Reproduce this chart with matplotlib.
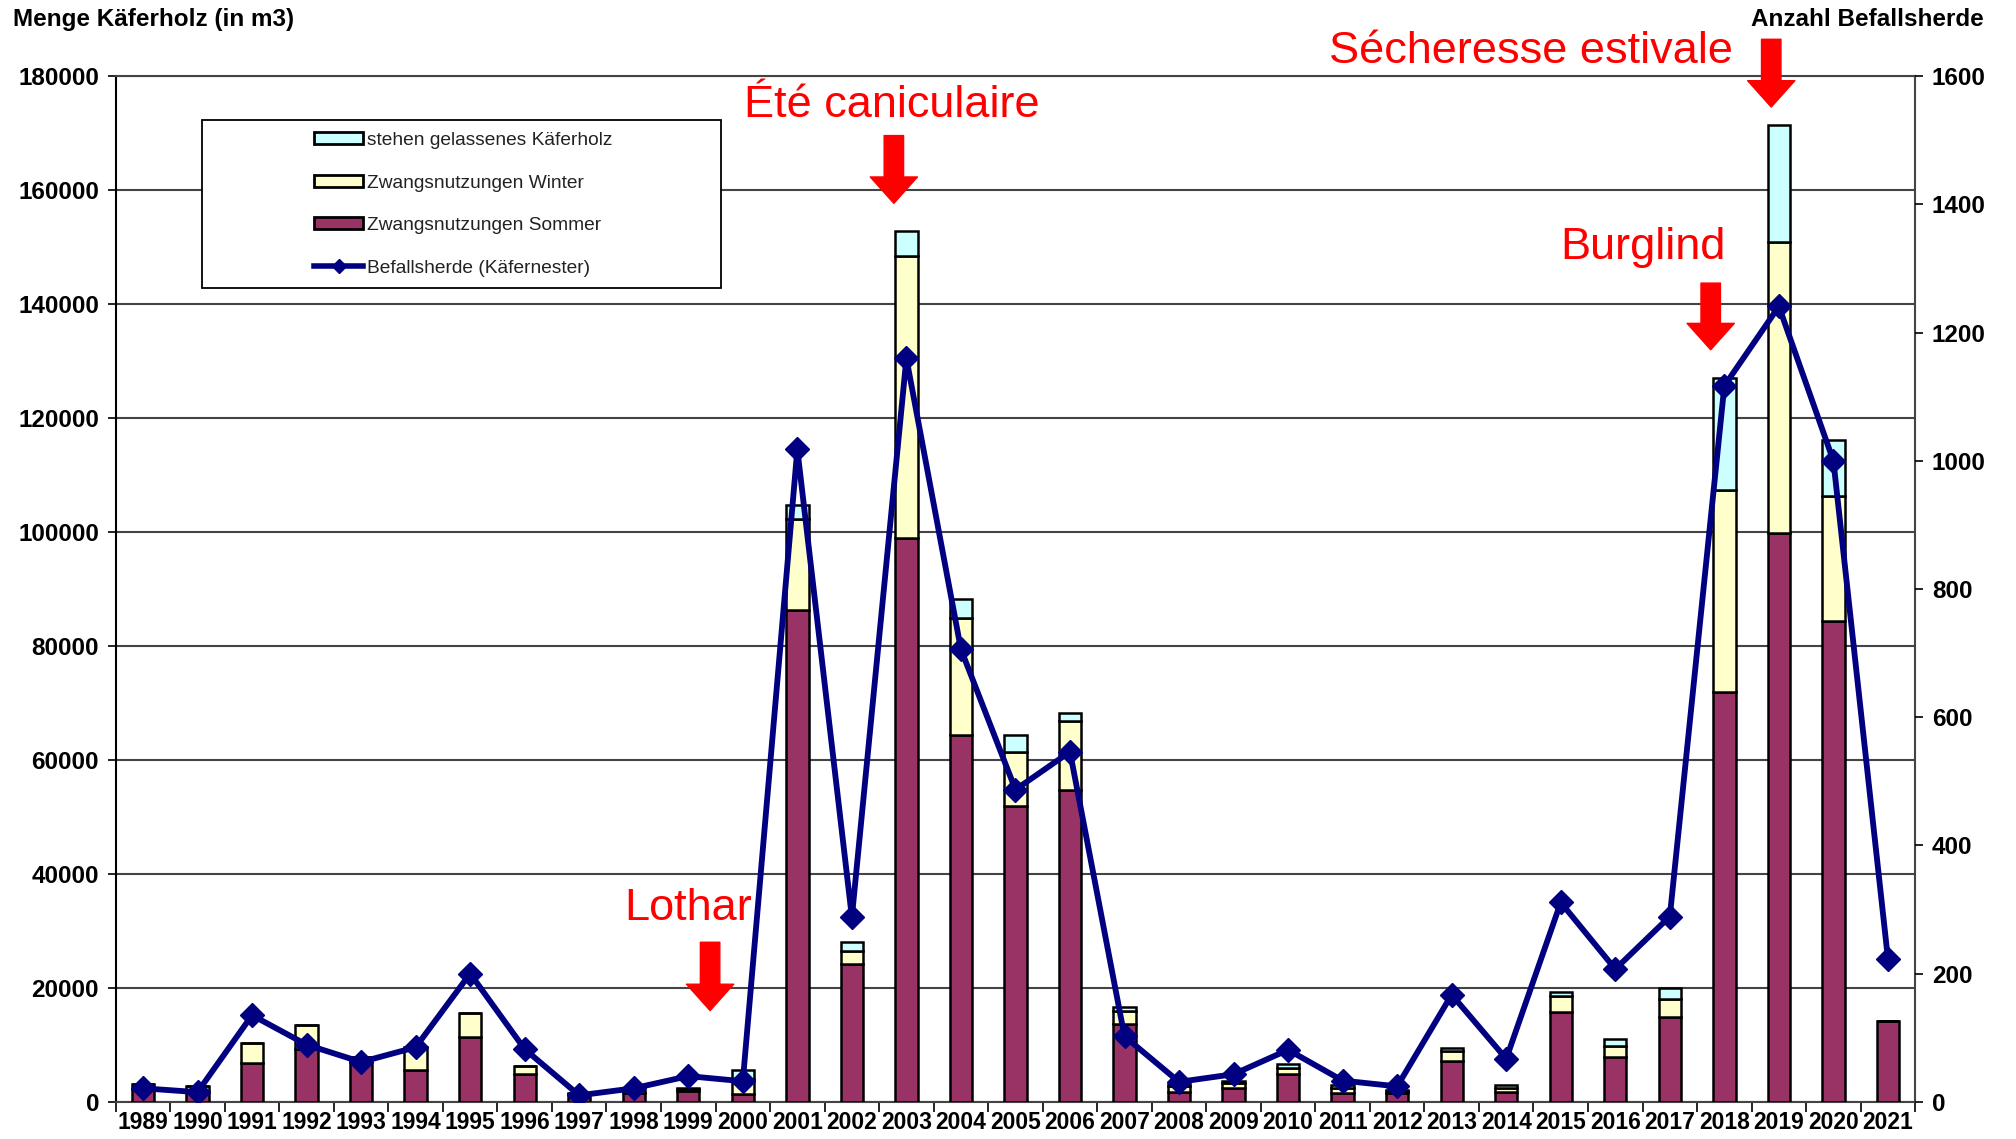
import numpy as np
import matplotlib
matplotlib.use("Agg")
from matplotlib import pyplot as plt
from matplotlib.patches import Patch, Rectangle
from matplotlib.lines import Line2D

years = list(range(1989, 2022))
# Zwangsnutzungen Sommer, Winter, stehen gelassenes Käferholz (m3)
sommer = [2200, 1800, 6800, 9200, 7500, 5600, 11350, 4900, 1400, 1500, 1900, 1350,
          86400, 24200, 98900, 64300, 52000, 54700, 13600, 1700, 2400, 4850, 1500, 1600,
          7200, 1700, 15700, 7840, 14800, 72000, 99900, 84400, 14200]
winter = [1000, 900, 3600, 4300, 300, 4000, 4200, 1300, 200, 600, 300, 2700,
          15900, 2350, 49500, 20700, 9450, 12100, 2250, 1000, 900, 1050, 900, 300,
          1650, 700, 2800, 2000, 3300, 35400, 51000, 21950, 0]
stehen = [0, 0, 0, 0, 0, 0, 0, 0, 0, 0, 300, 1500,
          2400, 1450, 4400, 3200, 2850, 1400, 700, 400, 400, 700, 500, 200,
          650, 500, 800, 1200, 1900, 19600, 20500, 9750, 0]
# Befallsherde (Käfernester)
herde = [21, 15, 135, 89, 62, 85, 200, 82, 10, 21, 40, 32,
         1018, 288, 1160, 706, 487, 546, 102, 31, 43, 81, 33, 24,
         167, 67, 311, 207, 289, 1117, 1241, 1000, 223]

c_sommer = "#993366"
c_winter = "#FFFFCC"
c_stehen = "#CCFFFF"
c_line = "#000080"

plt.rcParams["font.family"] = ["Liberation Sans", "DejaVu Sans"]

fig = plt.figure(figsize=(20.16, 11.39), dpi=100)
ax = fig.add_axes([0.0574, 0.0327, 0.8926, 0.9003])

x = np.arange(len(years))
w = 0.41
so = np.array(sommer)
wi = np.array(winter)
st = np.array(stehen)
ax.bar(x, so, w, color=c_sommer, edgecolor="black", linewidth=1.8, zorder=3)
ax.bar(x, wi, w, bottom=so, color=c_winter, edgecolor="black", linewidth=1.8, zorder=3)
ax.bar(x, st, w, bottom=so + wi, color=c_stehen, edgecolor="black", linewidth=1.8, zorder=3)

ax.set_xlim(-0.5, len(years) - 0.5)
ax.set_ylim(0, 180000)
ax.set_yticks(np.arange(0, 180001, 20000))
ax.yaxis.grid(True, color="#444444", linewidth=1.5, zorder=0)
ax.set_axisbelow(True)
ax.tick_params(axis="y", labelsize=17.5, length=6, width=1.2, pad=6)
for t in ax.get_yticklabels():
    t.set_fontweight("bold")

ax.set_xticks(x)
ax.set_xticklabels([str(y) for y in years], fontsize=16.5, fontweight="bold")
ax.set_xticks(np.arange(-0.5, len(years)), minor=True)
ax.tick_params(axis="x", which="major", length=0, pad=7)
ax.tick_params(axis="x", which="minor", length=7, width=1.2)
for s in ax.spines.values():
    s.set_color("#444444")
    s.set_linewidth(1.5)
ax.spines["left"].set_color("black")

ax2 = ax.twinx()
ax2.plot(x, herde, color=c_line, linewidth=4.2, marker="D", markersize=12,
         markerfacecolor=c_line, markeredgecolor=c_line, zorder=5)
ax2.set_ylim(0, 1600)
ax2.set_yticks(np.arange(0, 1601, 200))
ax2.tick_params(axis="y", labelsize=17.5, length=6, width=1.2, pad=6)
for t in ax2.get_yticklabels():
    t.set_fontweight("bold")
for s in ax2.spines.values():
    s.set_visible(False)

fig.text(0.0065, 0.983, "Menge Käferholz (in m3)", fontsize=17.5, fontweight="bold",
         ha="left", va="center")
fig.text(0.984, 0.983, "Anzahl Befallsherde", fontsize=17.5, fontweight="bold",
         ha="right", va="center")

# legend box with content shifted right, as in the original
ax2.add_patch(Rectangle((0.0478, 0.794), 0.2884, 0.163, transform=ax2.transAxes,
                        facecolor="white", edgecolor="black", linewidth=1.3, zorder=9))
handles = [
    Patch(facecolor=c_stehen, edgecolor="black", linewidth=2),
    Patch(facecolor=c_winter, edgecolor="black", linewidth=2),
    Patch(facecolor=c_sommer, edgecolor="black", linewidth=2),
    Line2D([], [], color=c_line, linewidth=4, marker="D", markersize=7),
]
labels = ["stehen gelassenes Käferholz", "Zwangsnutzungen Winter",
          "Zwangsnutzungen Sommer", "Befallsherde (Käfernester)"]
leg = ax2.legend(handles, labels, loc="upper left", bbox_to_anchor=(0.105, 0.955),
                 fontsize=13.8, frameon=False,
                 handlelength=2.55, handleheight=0.55, labelspacing=1.33,
                 borderpad=0.5, handletextpad=0.2, borderaxespad=0)
leg.set_zorder(10)
for t in leg.get_texts():
    t.set_color("#222222")

red = "#FF0000"
notes = [
    ("Été caniculaire", 13.73, 174800, 13.77, 169600, 157700),
    ("Sécheresse estivale", 25.45, 184300, 29.86, 186500, 174600),
    ("Burglind", 27.5, 150000, 28.75, 143700, 132000),
    ("Lothar", 10.0, 34000, 10.4, 28000, 16000),
]
for txt, tx, ty, axx, ay0, ay1 in notes:
    ax2.text(tx, ty * 1600 / 180000, txt, color=red, fontsize=32.5, ha="center", va="center",
             clip_on=False, zorder=12)
    ax2.annotate("", xy=(axx, ay1 * 1600 / 180000), xytext=(axx, ay0 * 1600 / 180000),
                 annotation_clip=False,
                 arrowprops=dict(arrowstyle="simple,head_length=1.9,head_width=3.4,tail_width=1.4",
                                 color=red, shrinkA=0, shrinkB=0, mutation_scale=10),
                 zorder=12)

fig.savefig("out.png", dpi=100)
